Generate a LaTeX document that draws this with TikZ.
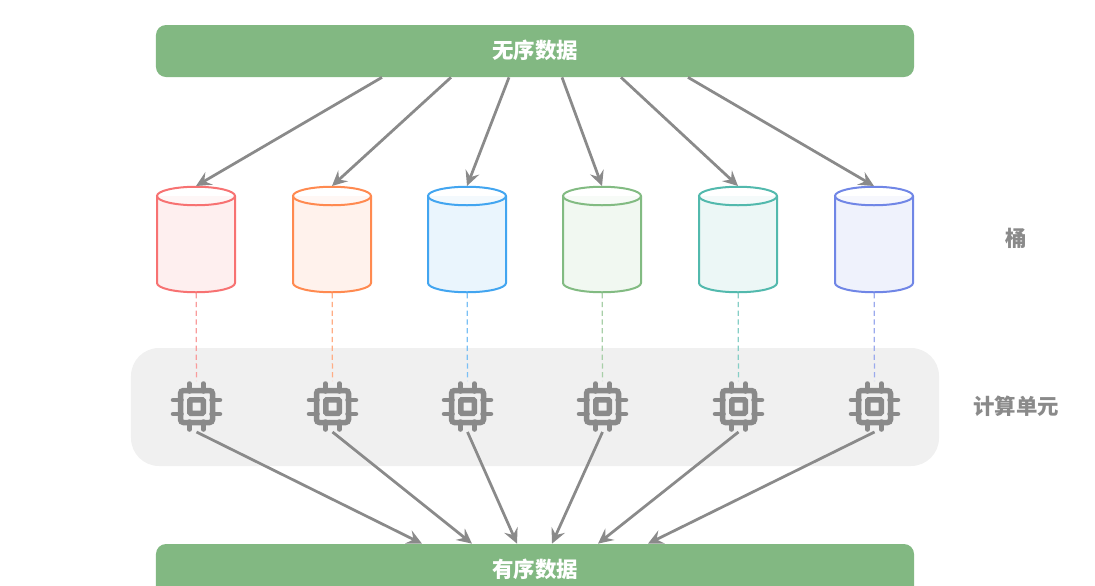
\documentclass[tikz,border=0pt]{standalone}
\usepackage{fontspec}
\setmainfont{Noto Sans CJK SC}
\usetikzlibrary{arrows.meta}
\definecolor{cgreen}{HTML}{82B882}
\definecolor{cband}{HTML}{F0F0F0}
\definecolor{cgray}{HTML}{8A8A8A}
\definecolor{cred}{HTML}{F77272}
\definecolor{corange}{HTML}{FF8A50}
\definecolor{cblue}{HTML}{42A5F0}
\definecolor{cmoss}{HTML}{82BB82}
\definecolor{cteal}{HTML}{52B9AD}
\definecolor{cindigo}{HTML}{7086E6}

\begin{document}
\begin{tikzpicture}[x=0.2mm, y=-0.2mm, font=\fontsize{12.2}{14}\selectfont\bfseries,
  bar/.style={rectangle, fill=cgreen, text=white, rounded corners=2mm, minimum width=151.6mm, minimum height=10.4mm, inner sep=0pt, text height=4mm, text depth=1mm},
  band/.style={rectangle, fill=cband, rounded corners=5.6mm, minimum width=161.6mm, minimum height=23.6mm},
  bkt/.style={draw=#1, fill=#1!11, line width=0.4mm},
  arr/.style={-{Stealth[length=3mm, width=2.9mm, inset=1.1mm]}, cgray, line width=0.55mm},
  lnk/.style={densely dashed, #1!70, line width=0.25mm},
  side/.style={text=cgray},
  bucket/.pic={
    \node[minimum width=15.7mm, minimum height=21.4mm, inner sep=0pt, outer sep=0pt] (-body) {};
    \path[pic actions] (-39,-43.5) -- (-39,43.5) arc[start angle=180, end angle=360, x radius=7.8mm, y radius=1.85mm] -- (39,-43.5);
    \path[pic actions, fill=white, fill opacity=0.45] (0,-43.5) ellipse[x radius=7.8mm, y radius=1.85mm];
  },
  chip/.pic={
    \node[minimum size=10.2mm, inner sep=0pt, outer sep=0pt] (-outer) {};
    \draw[cgray, line width=0.9mm, line cap=round] (-15,-6.5) -- (-23.5,-6.5) (-15,7.5) -- (-23.5,7.5) (15,-6.5) -- (23.5,-6.5) (15,7.5) -- (23.5,7.5);
    \draw[cgray, line width=0.9mm, line cap=round] (-7,-15) -- (-7,-23) (7,-15) -- (7,-23) (-7,15) -- (-7,23) (7,15) -- (7,23);
    \draw[cgray, line width=1.1mm, rounded corners=0.6mm] (-16,-16) rectangle (16,16);
    \draw[cgray, line width=1.1mm, rounded corners=0.2mm] (-6.75,-6.75) rectangle (6.75,6.75);
  }]
\path[use as bounding box, clip] (0,0) rectangle (1095,585);

% ---- bars, top and bottom
\node[bar] (src) at (535,51) {无序数据};
\node[bar] (dst) at (535,570) {有序数据};

% ---- band behind the chips
\node[band] (cells) at (535,407) {};

% ---- buckets (y=239)
\pic[bkt=cred] (b1) at (196,239.5) {bucket};
\pic[bkt=corange] (b2) at (332,239.5) {bucket};
\pic[bkt=cblue] (b3) at (467,239.5) {bucket};
\pic[bkt=cmoss] (b4) at (602,239.5) {bucket};
\pic[bkt=cteal] (b5) at (738,239.5) {bucket};
\pic[bkt=cindigo] (b6) at (874,239.5) {bucket};

% ---- chips (y=407)
\pic (c1) at (196.5,406.5) {chip};
\pic (c2) at (332.5,406.5) {chip};
\pic (c3) at (467.5,406.5) {chip};
\pic (c4) at (602.5,406.5) {chip};
\pic (c5) at (738.5,406.5) {chip};
\pic (c6) at (874.5,406.5) {chip};

% ---- side labels
\node[side] (lbkt) at (1016,238) {桶};
\node[side] (lcell) at (1016,406) {计算单元};

\draw[arr] ([xshift=-30.6mm]src.south) -- (b1-body.north);
\draw[arr] ([xshift=-16.8mm]src.south) -- (b2-body.north);
\draw[arr] ([xshift=-5.2mm]src.south) -- (b3-body.north);
\draw[arr] ([xshift=5.4mm]src.south) -- (b4-body.north);
\draw[arr] ([xshift=17.2mm]src.south) -- (b5-body.north);
\draw[arr] ([xshift=30.6mm]src.south) -- (b6-body.north);

\draw[lnk=cred] (b1-body) -- (c1-outer);
\draw[lnk=corange] (b2-body) -- (c2-outer);
\draw[lnk=cblue] (b3-body) -- (c3-outer);
\draw[lnk=cmoss] (b4-body) -- (c4-outer);
\draw[lnk=cteal] (b5-body) -- (c5-outer);
\draw[lnk=cindigo] (b6-body) -- (c6-outer);

\draw[arr] (c1-outer.south) -- ([xshift=-22.6mm]dst.north);
\draw[arr] (c2-outer.south) -- ([xshift=-12.6mm]dst.north);
\draw[arr] (c3-outer.south) -- ([xshift=-3.6mm]dst.north);
\draw[arr] (c4-outer.south) -- ([xshift=3.4mm]dst.north);
\draw[arr] (c5-outer.south) -- ([xshift=12.6mm]dst.north);
\draw[arr] (c6-outer.south) -- ([xshift=22.6mm]dst.north);
\end{tikzpicture}
\end{document}
